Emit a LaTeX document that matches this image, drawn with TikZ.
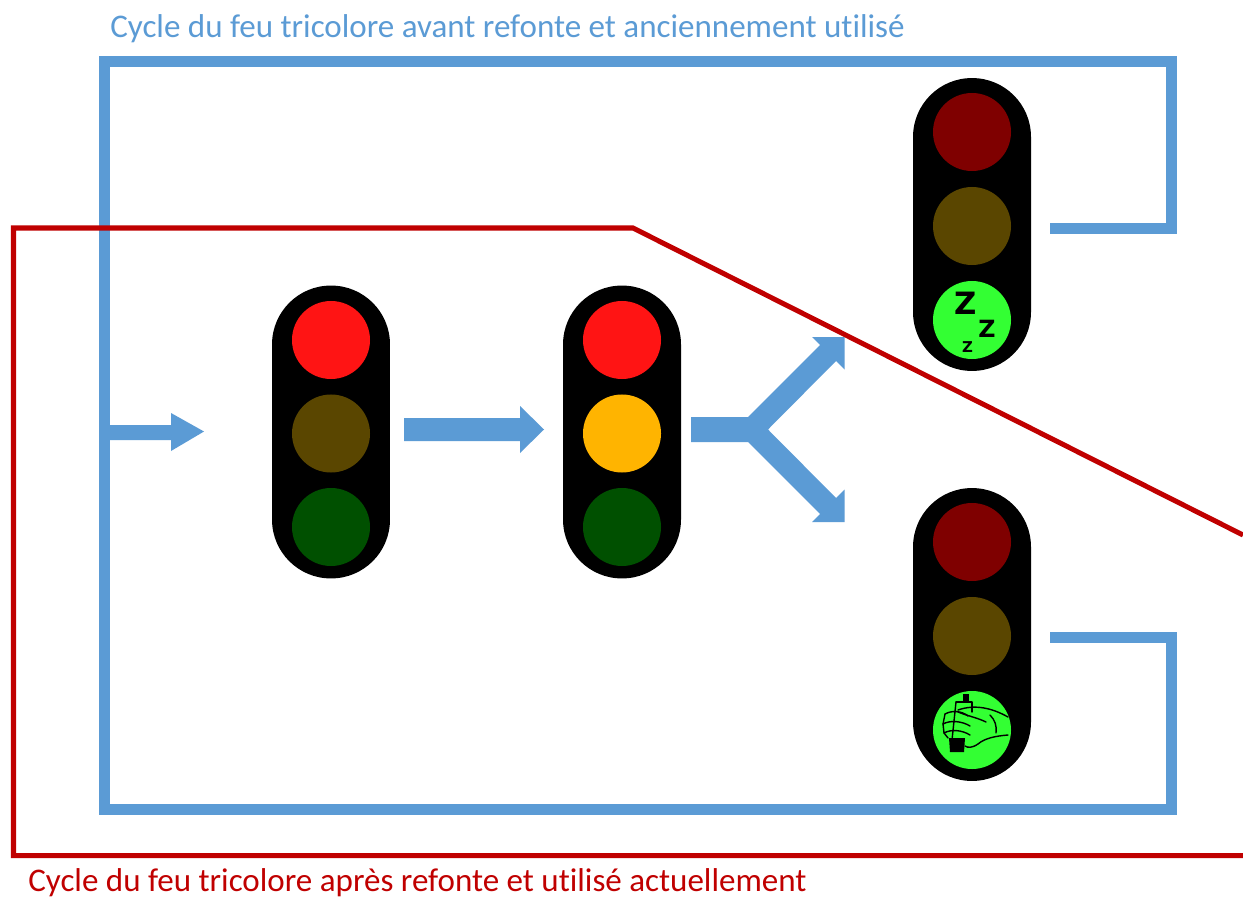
\documentclass[tikz,border=0pt]{standalone}
\usepackage{fontspec}
\setmainfont{Carlito}[Ligatures=NoCommon]
\newfontfamily\zfont{DejaVu Sans}
\definecolor{blueln}{HTML}{5B9BD5}
\definecolor{redln}{HTML}{C00000}
\definecolor{redon}{HTML}{FF1414}
\definecolor{redoff}{HTML}{7F0000}
\definecolor{ambon}{HTML}{FFB400}
\definecolor{amboff}{HTML}{5A4600}
\definecolor{greenon}{HTML}{33FF33}
\definecolor{greenoff}{HTML}{005000}
\begin{document}
\begin{tikzpicture}[x=0.02cm,y=-0.02cm,
  housing/.style={fill=black, draw=none, minimum width=67.15pt, minimum height=166.7pt, rounded corners=33.5pt, inner sep=0pt, outer sep=0pt},
  lamp/.style={circle, fill=#1, draw=none, minimum size=44.4pt, inner sep=0pt, outer sep=0pt},
  bluepath/.style={draw=blueln, line width=6.26pt, line join=miter, line cap=butt},
  redpath/.style={draw=redln, line width=2.85pt, line join=miter, line cap=butt},
  blockarrow/.style={fill=blueln, draw=none},
  title/.style={anchor=base west, inner sep=0pt, font=\fontsize{18.8}{22}\selectfont}
]
\useasboundingbox (0,0) rectangle (1243,898);
\fill[white] (0,0) rectangle (1243,898);

% titles
\node[title, text=blueln] (ttop) at (110,38) {Cycle du feu tricolore avant refonte et anciennement utilisé};
\node[title, text=redln] (tbot) at (28,891) {Cycle du feu tricolore après refonte et utilisé actuellement};

% blue loop
\coordinate (b1) at (1050,228.5);
\coordinate (b2) at (1171.5,228.5);
\coordinate (b3) at (1171.5,61.5);
\coordinate (b4) at (104,61.5);
\coordinate (b5) at (104,809);
\coordinate (b6) at (1171.5,809);
\coordinate (b7) at (1171.5,637);
\coordinate (b8) at (1050,637);
\draw[bluepath] (b1) -- (b2) -- (b3) -- (b4) -- (b5) -- (b6) -- (b7) -- (b8);

% arrow 1
\fill[blockarrow] (104,425) -- (171,425) -- (171,413) -- (204,431.5) -- (171,451) -- (171,440) -- (104,440) -- cycle;
% arrow 2
\fill[blockarrow] (404,418) -- (520,418) -- (520,406) -- (544,429.5) -- (520,453) -- (520,441) -- (404,441) -- cycle;
% fork arrow
\fill[blockarrow] (691,417) -- (748,417) -- (820,345) -- (812,337) -- (844.5,337) -- (844.5,369.5) -- (836,361) -- (768,429.5) -- (836,498) -- (844.5,489.5) -- (844.5,522) -- (812,522) -- (820,514) -- (748,442) -- (691,442) -- cycle;

% traffic lights
\node[housing] (L1) at (331,432) {};
\node[lamp=redon] (L1r) at (331,340) {};
\node[lamp=amboff] (L1y) at (331,433.5) {};
\node[lamp=greenoff] (L1g) at (331,527) {};

\node[housing] (L2) at (622,432) {};
\node[lamp=redon] (L2r) at (622,340) {};
\node[lamp=ambon] (L2y) at (622,433.5) {};
\node[lamp=greenoff] (L2g) at (622,527) {};

\node[housing] (L3) at (972,224.5) {};
\node[lamp=redoff] (L3r) at (972,132) {};
\node[lamp=amboff] (L3y) at (972,226) {};
\node[lamp=greenon] (L3g) at (972,320) {};
\node[inner sep=0pt, font=\zfont\bfseries\fontsize{17.5}{18}\selectfont] (z1) at (965.5,303) {Z};
\node[inner sep=0pt, font=\zfont\bfseries\fontsize{13.5}{14}\selectfont] (z2) at (987,328.5) {Z};
\node[inner sep=0pt, font=\zfont\bfseries\fontsize{8.5}{9}\selectfont] (z3) at (967.5,347.5) {Z};

\node[housing] (L4) at (972,634.5) {};
\node[lamp=redoff] (L4r) at (972,542) {};
\node[lamp=amboff] (L4y) at (972,636) {};
\node[lamp=greenon] (L4g) at (972,730) {};
% fist icon
\begin{scope}[line width=0.8pt, line cap=round, line join=round]
  % spray can
  \fill[black] (963,694) rectangle (969,702);
  \draw (956,702) -- (972,702) -- (972,712);
  \draw (956,702) -- (952,740);
  \fill[black] (949,738) -- (965,738) -- (964,752) -- (950,752) -- cycle;
  % fist outline
  \draw (958,710) .. controls (975,704) and (992,708) .. (1008,717);
  \draw (1008,735) .. controls (996,736) and (985,738) .. (978,744) .. controls (972,748) and (968,748) .. (965,746);
  % fingers
  \draw (945,714) .. controls (952,710) and (962,711) .. (968,716);
  \draw (943,724) .. controls (950,720) and (962,721) .. (970,726);
  \draw (944,733) .. controls (951,729) and (962,730) .. (970,735);
  \draw (945,714) -- (943,724) -- (944,733) -- (948,738);
  % thumb and knuckles
  \draw (958,712) .. controls (968,716) and (978,718) .. (986,722);
  \draw (990,715) .. controls (995,720) and (997,726) .. (996,733);
\end{scope}

% red frame
\coordinate (r1) at (1243,535);
\coordinate (r2) at (633,228);
\coordinate (r3) at (13.5,228);
\coordinate (r4) at (13.5,855.5);
\coordinate (r5) at (1243,855.5);
\draw[redpath] (r1) -- (r2) -- (r3) -- (r4) -- (r5);
\end{tikzpicture}
\end{document}
